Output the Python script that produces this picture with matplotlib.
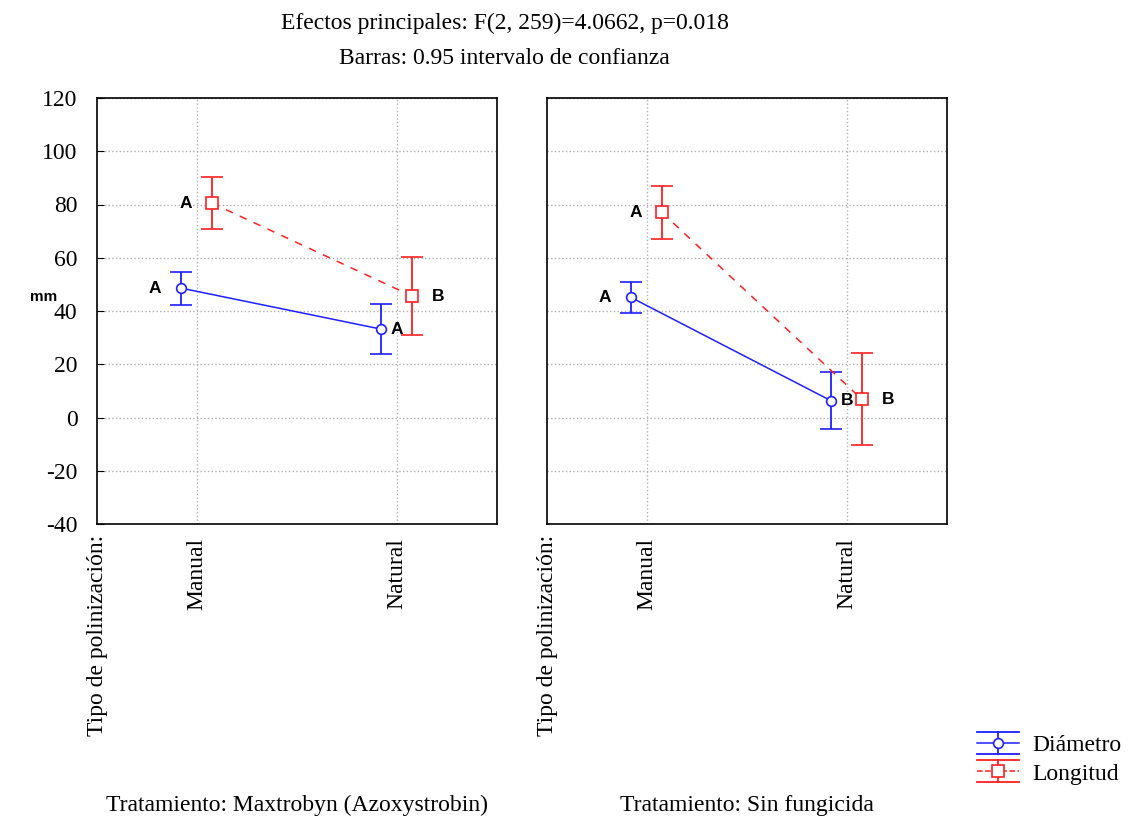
import numpy as np
import matplotlib
matplotlib.use("Agg")
import matplotlib.pyplot as plt
from matplotlib.lines import Line2D
from matplotlib.legend_handler import HandlerBase

# data (means and 0.95 CI half-widths, mm)
categories = ["Manual", "Natural"]
treatments = ["Tratamiento: Maxtrobyn (Azoxystrobin)", "Tratamiento: Sin fungicida"]

diam_maxtro = [48.6, 33.2]
diam_maxtro_ci = [6.2, 9.4]
long_maxtro = [80.5, 45.6]
long_maxtro_ci = [9.8, 14.5]

diam_sin = [45.1, 6.3]
diam_sin_ci = [5.9, 10.8]
long_sin = [77.0, 6.8]
long_sin_ci = [9.8, 17.3]

diam_letters = [["A", "A"], ["A", "B"]]
long_letters = [["A", "B"], ["A", "B"]]

yticks = [-40, -20, 0, 20, 40, 60, 80, 100, 120]

serif = ["Liberation Serif", "DejaVu Serif"]
bold_sans = ["Liberation Sans", "DejaVu Sans"]
fs = 17


class StatHandler(HandlerBase):
    # statistica-like legend key: caps across the full width, mean line with marker
    def create_artists(self, legend, orig, xd, yd, w, h, fontsize, trans):
        c = orig.get_color()
        mid = yd + h / 2
        top, bot = mid + 8, mid - 8
        xm = xd + w / 2
        arts = [
            Line2D([xd, xd + w], [top, top], color=c, lw=1.3),
            Line2D([xd, xd + w], [bot, bot], color=c, lw=1.3),
            Line2D([xm, xm], [bot, top], color=c, lw=1.3),
            Line2D([xd, xd + w], [mid, mid], color=c, lw=1.1, ls=orig.get_linestyle()),
            Line2D([xm], [mid], marker=orig.get_marker(), ms=orig.get_markersize(),
                   mfc="white", mec=c, mew=1.2, ls="none"),
        ]
        for a in arts:
            a.set_transform(trans)
        return arts


fig = plt.figure(figsize=(11.34, 8.17), dpi=100)
ax1 = fig.add_axes([97 / 1134, 1 - 524 / 817, 400 / 1134, 426 / 817])
ax2 = fig.add_axes([547 / 1134, 1 - 524 / 817, 400 / 1134, 426 / 817])

x = np.arange(len(categories))
off_d, off_l = -0.08, 0.075

panels = [
    (ax1, diam_maxtro, diam_maxtro_ci, long_maxtro, long_maxtro_ci),
    (ax2, diam_sin, diam_sin_ci, long_sin, long_sin_ci),
]

for i, (ax, d, dci, l, lci) in enumerate(panels):
    ax.errorbar(x + off_d, d, yerr=dci, color="#1f1fff", lw=1.1, ls="-",
                marker="o", ms=7, mfc="white", mec="#1f1fff", mew=1.2,
                capsize=8, capthick=1.3, elinewidth=1.3, zorder=3)
    hl = ax.errorbar(x + off_l, l, yerr=lci, color="#ff2020", lw=1.1, ls=(0, (5, 5)),
                     marker="s", ms=8, mfc="white", mec="#ff2020", mew=1.2,
                     capsize=8, capthick=1.3, elinewidth=1.3, zorder=3)
    hl[2][0].set_linestyle("-")

    # significance letters
    for j in range(len(categories)):
        if j == 0:
            ax.text(x[j] + off_d - 0.1, d[j], diam_letters[i][j], ha="right", va="center",
                    fontsize=12.5, fontweight="bold", family=bold_sans)
            ax.text(x[j] + off_l - 0.1, l[j], long_letters[i][j], ha="right", va="center",
                    fontsize=12.5, fontweight="bold", family=bold_sans)
        else:
            ax.text(x[j] + off_d + 0.05, d[j], diam_letters[i][j], ha="left", va="center",
                    fontsize=12.5, fontweight="bold", family=bold_sans)
            ax.text(x[j] + off_l + 0.1, l[j], long_letters[i][j], ha="left", va="center",
                    fontsize=12.5, fontweight="bold", family=bold_sans)

    ax.set_xlim(-0.5, 1.5)
    ax.set_ylim(-40, 120)
    ax.set_yticks(yticks)
    ax.set_xticks(x)
    ax.set_xticklabels(categories, rotation=90, family=serif, fontsize=fs)
    ax.tick_params(axis="x", length=0, pad=10)
    ax.grid(True, ls=":", color="#b0b0b0", lw=1)
    ax.set_axisbelow(True)
    for sp in ax.spines.values():
        sp.set_linewidth(1.2)
    if i == 0:
        ax.set_yticklabels([str(t) for t in yticks], family=serif, fontsize=fs)
        ax.tick_params(axis="y", direction="in", length=5, pad=14)
    else:
        ax.tick_params(axis="y", length=0, labelleft=False)

    ax.text(0.0, -0.025, "Tipo de polinización:", transform=ax.transAxes, rotation=90,
            ha="center", va="top", family=serif, fontsize=fs)
    ax.text(0.5, -0.66, treatments[i], transform=ax.transAxes, ha="center", va="center",
            family=serif, fontsize=fs)

fig.text(30 / 1134, 1 - 297 / 817, "mm", ha="left", va="center", fontsize=11,
         fontweight="bold", family=bold_sans)
fig.text(0.445, 1 - 23 / 817, "Efectos principales: F(2, 259)=4.0662, p=0.018",
         ha="center", va="center", family=serif, fontsize=fs)
fig.text(0.445, 1 - 58 / 817, "Barras: 0.95 intervalo de confianza",
         ha="center", va="center", family=serif, fontsize=fs)

key_d = Line2D([], [], color="#1f1fff", ls="-", marker="o", ms=7)
key_l = Line2D([], [], color="#ff2020", ls=(0, (3, 3)), marker="s", ms=8)
fig.legend([key_d, key_l], ["Diámetro", "Longitud"], loc="lower right",
           bbox_to_anchor=(0.997, 1 - 794 / 817), frameon=False,
           prop={"family": serif, "size": fs}, handlelength=1.8,
           handletextpad=0.55, labelspacing=0.3, borderaxespad=0,
           handler_map={Line2D: StatHandler()})

fig.savefig("out.png", dpi=100)
